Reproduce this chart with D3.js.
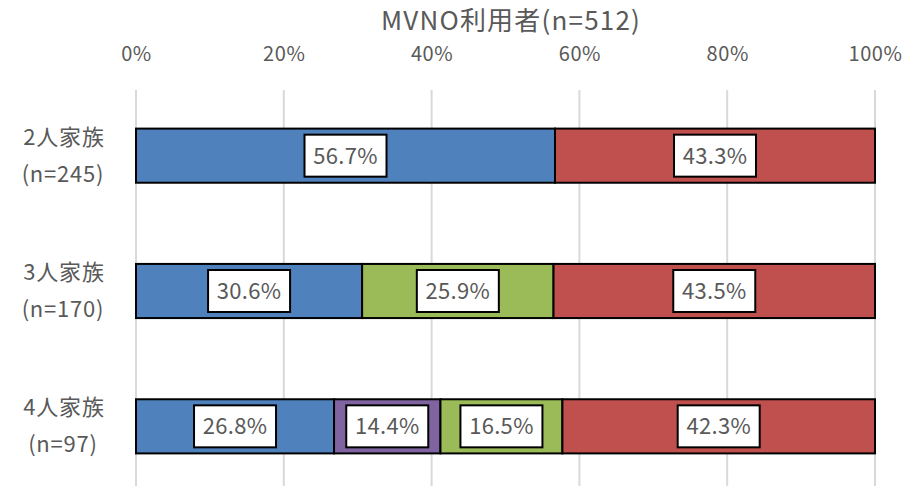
<!DOCTYPE html>
<html>
<head>
<meta charset="utf-8">
<script src="https://cdn.jsdelivr.net/npm/d3@7"></script>
<style>
  body { margin: 0; background: #fff; }
  svg text { font-family: "Noto Sans CJK JP", "Noto Sans", sans-serif; fill: #595959; }
</style>
</head>
<body>
<svg width="905" height="486"></svg>
<script>
const TITLE = "MVNO利用者(n=512)"
const categories = ["2人家族", "3人家族", "4人家族"]
const counts = ["(n=245)", "(n=170)", "(n=97)"]
const seriesNames = ["s1", "s2", "s3", "s4"]
const seriesColors = ["#4F81BD", "#8064A2", "#9BBB59", "#C0504D"]
const s1 = [56.7, 30.6, 26.8]
const s2 = [0, 0, 14.4]
const s3 = [0, 25.9, 16.5]
const s4 = [43.3, 43.5, 42.3]
const ticks = [0, 20, 40, 60, 80, 100]

const svg = d3.select("svg")
const width = 905, height = 486

const x = d3.scaleLinear().domain([0, 100]).range([136, 875])
const y = d3.scaleBand().domain(categories).range([88, 494]).paddingInner(0.6).paddingOuter(0.3)

// title
svg.append("text")
	.attr("x", 511).attr("y", 30)
	.attr("text-anchor", "middle")
	.attr("font-size", 26)
	.attr("letter-spacing", 1.2)
	.text(TITLE)

// gridlines
svg.append("g").selectAll("line")
	.data(ticks).join("line")
	.attr("x1", d => x(d)).attr("x2", d => x(d))
	.attr("y1", 90).attr("y2", height)
	.attr("stroke", "#d9d9d9").attr("stroke-width", 2)

// top axis labels
const axis = d3.axisTop(x).tickValues(ticks).tickFormat(d => d + "%").tickSize(0)
const ax = svg.append("g").attr("transform", "translate(0,64)").call(axis)
ax.select(".domain").remove()
ax.selectAll("text").attr("font-size", 20).attr("letter-spacing", 0.6).attr("fill", "#595959").attr("dy", 0)

// category labels
categories.forEach((c, i) => {
	const cy = y(c) + y.bandwidth() / 2
	const t = svg.append("text").attr("text-anchor", "middle").attr("font-size", 22).attr("letter-spacing", 0.8)
	t.append("tspan").attr("x", 64).attr("y", cy - 11).text(c)
	t.append("tspan").attr("x", 63).attr("y", cy + 26).text(counts[i])
})

// stacked bars
const rows = categories.map((c, i) => ({ cat: c, s1: s1[i], s2: s2[i], s3: s3[i], s4: s4[i] }))
const stack = d3.stack().keys(seriesNames)(rows)

const layers = svg.append("g").selectAll("g")
	.data(stack).join("g")
	.attr("fill", (d, i) => seriesColors[i])

layers.selectAll("rect")
	.data(d => d.filter(p => p[1] - p[0] > 0))
	.join("rect")
	.attr("x", d => x(d[0]))
	.attr("y", d => y(d.data.cat))
	.attr("width", d => x(d[1]) - x(d[0]))
	.attr("height", y.bandwidth())
	.attr("stroke", "#000").attr("stroke-width", 2)

// data labels
const labels = svg.append("g")
stack.forEach(layer => {
	layer.filter(p => p[1] - p[0] > 0).forEach(p => {
		const cx = (x(p[0]) + x(p[1])) / 2
		const cy = y(p.data.cat) + y.bandwidth() / 2
		const g = labels.append("g").attr("transform", `translate(${cx},${cy})`)
		g.append("rect")
			.attr("x", -41).attr("y", -21).attr("width", 82).attr("height", 42)
			.attr("fill", "#fff").attr("stroke", "#000").attr("stroke-width", 2)
		g.append("text")
			.attr("text-anchor", "middle").attr("dy", "0.36em")
			.attr("font-size", 22)
			.attr("letter-spacing", 0.3)
			.text((p[1] - p[0]).toFixed(1) + "%")
	})
})
</script>
</body>
</html>
